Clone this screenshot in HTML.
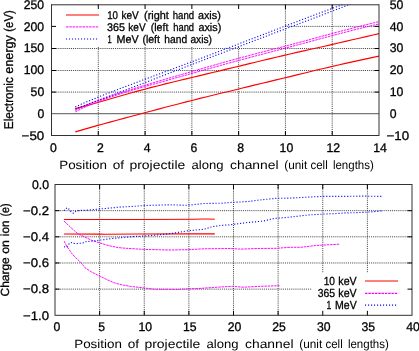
<!DOCTYPE html>
<html><head><meta charset="utf-8"><style>
html,body{margin:0;padding:0;background:#fff;}
svg{display:block;will-change:transform;}
text{font-family:"Liberation Sans", sans-serif;fill:#000;stroke:#000;stroke-width:0.3px;text-rendering:geometricPrecision;}
</style></head><body>
<svg width="419" height="351" viewBox="0 0 419 351">
<defs>
<clipPath id="c1"><rect x="51.5" y="4.5" width="327.5" height="131.0"/></clipPath>
<clipPath id="c2"><rect x="55.0" y="184.5" width="357.0" height="130.8"/></clipPath>
</defs>
<rect width="419" height="351" fill="#fff"/>
<line x1="98.29" y1="5" x2="98.29" y2="135.5" stroke="#000" stroke-width="1" stroke-dasharray="1.1,1.0" stroke-opacity="0.7"/>
<line x1="145.07" y1="5" x2="145.07" y2="135.5" stroke="#000" stroke-width="1" stroke-dasharray="1.1,1.0" stroke-opacity="0.7"/>
<line x1="191.86" y1="5" x2="191.86" y2="135.5" stroke="#000" stroke-width="1" stroke-dasharray="1.1,1.0" stroke-opacity="0.7"/>
<line x1="238.64" y1="5" x2="238.64" y2="135.5" stroke="#000" stroke-width="1" stroke-dasharray="1.1,1.0" stroke-opacity="0.7"/>
<line x1="285.43" y1="5" x2="285.43" y2="135.5" stroke="#000" stroke-width="1" stroke-dasharray="1.1,1.0" stroke-opacity="0.7"/>
<line x1="332.21" y1="5" x2="332.21" y2="135.5" stroke="#000" stroke-width="1" stroke-dasharray="1.1,1.0" stroke-opacity="0.7"/>
<line x1="52" y1="92.1" x2="379.0" y2="92.1" stroke="#000" stroke-width="1" stroke-dasharray="1.1,1.0" stroke-opacity="0.7"/>
<line x1="52" y1="70.5" x2="379.0" y2="70.5" stroke="#000" stroke-width="1" stroke-dasharray="1.1,1.0" stroke-opacity="0.7"/>
<line x1="52" y1="48.5" x2="379.0" y2="48.5" stroke="#000" stroke-width="1" stroke-dasharray="1.1,1.0" stroke-opacity="0.7"/>
<line x1="52" y1="26.4" x2="379.0" y2="26.4" stroke="#000" stroke-width="1" stroke-dasharray="1.1,1.0" stroke-opacity="0.7"/>
<line x1="51.5" y1="113.67" x2="379.0" y2="113.67" stroke="#777" stroke-width="1.1"/>
<rect x="52.0" y="5.0" width="232" height="41" fill="#fff"/>
<g clip-path="url(#c1)">
<polyline points="75.3,131.9 82.2,129.9 89.1,127.9 96.1,125.9 103.0,124.0 109.9,122.1 116.8,120.2 123.8,118.4 130.7,116.5 137.6,114.7 144.6,112.8 151.5,111.0 158.4,109.1 165.3,107.3 172.2,105.5 179.2,103.7 186.1,101.9 193.0,100.2 199.9,98.4 206.9,96.7 213.8,95.0 220.7,93.3 227.6,91.7 234.6,90.0 241.5,88.3 248.4,86.6 255.3,84.9 262.3,83.2 269.2,81.6 276.1,79.9 283.1,78.2 290.0,76.6 296.9,74.9 303.8,73.2 310.8,71.5 317.7,69.8 324.6,68.2 331.5,66.6 338.4,65.0 345.4,63.4 352.3,61.9 359.2,60.4 366.1,58.9 373.1,57.4 380.0,56.0" fill="none" stroke="#ff0000" stroke-width="1.15" stroke-linejoin="round"/>
<polyline points="75.3,108.6 82.2,106.9 89.1,105.0 96.1,103.0 103.0,101.0 109.9,99.0 116.8,97.0 123.8,95.0 130.7,93.0 137.6,91.1 144.6,89.3 151.5,87.4 158.4,85.7 165.3,83.9 172.2,82.2 179.2,80.5 186.1,78.9 193.0,77.2 199.9,75.6 206.9,73.9 213.8,72.3 220.7,70.6 227.6,68.9 234.6,67.3 241.5,65.6 248.4,63.9 255.3,62.2 262.3,60.5 269.2,58.9 276.1,57.2 283.1,55.6 290.0,54.0 296.9,52.4 303.8,50.9 310.8,49.3 317.7,47.7 324.6,46.2 331.5,44.6 338.4,43.0 345.4,41.4 352.3,39.8 359.2,38.2 366.1,36.6 373.1,35.0 380.0,33.3" fill="none" stroke="#ff0000" stroke-width="1.15" stroke-linejoin="round"/>
<polyline points="75.3,110.4 82.2,106.7 89.1,103.9 96.1,101.2 103.0,98.7 109.9,96.3 116.8,94.0 123.8,91.7 130.7,89.6 137.6,87.4 144.6,85.3 151.5,83.3 158.4,81.2 165.3,79.2 172.2,77.2 179.2,75.2 186.1,73.2 193.0,71.2 199.9,69.2 206.9,67.2 213.8,65.2 220.7,63.2 227.6,61.3 234.6,59.4 241.5,57.5 248.4,55.7 255.3,53.8 262.3,52.0 269.2,50.2 276.1,48.5 283.1,46.7 290.0,44.9 296.9,43.0 303.8,41.2 310.8,39.3 317.7,37.4 324.6,35.5 331.5,33.7 338.4,31.8 345.4,30.0 352.3,28.2 359.2,26.4 366.1,24.7 373.1,23.0 380.0,21.4" fill="none" stroke="#ff00ff" stroke-width="0.95" stroke-dasharray="2.5,0.8" stroke-linejoin="round"/>
<polyline points="75.3,111.9 82.2,108.3 89.1,105.3 96.1,102.5 103.0,99.8 109.9,97.3 116.8,95.0 123.8,92.7 130.7,90.6 137.6,88.6 144.6,86.6 151.5,84.7 158.4,82.8 165.3,80.9 172.2,78.9 179.2,77.0 186.1,75.1 193.0,73.1 199.9,71.2 206.9,69.2 213.8,67.3 220.7,65.4 227.6,63.5 234.6,61.6 241.5,59.7 248.4,57.9 255.3,56.0 262.3,54.2 269.2,52.4 276.1,50.6 283.1,48.8 290.0,46.9 296.9,45.1 303.8,43.3 310.8,41.4 317.7,39.5 324.6,37.7 331.5,35.8 338.4,34.0 345.4,32.2 352.3,30.4 359.2,28.6 366.1,27.0 373.1,25.3 380.0,23.8" fill="none" stroke="#ff00ff" stroke-width="0.95" stroke-dasharray="2.5,0.8" stroke-linejoin="round"/>
<polyline points="75.3,106.9 81.4,104.1 87.6,101.5 93.7,99.0 99.8,96.5 105.9,94.0 112.1,91.7 118.2,89.3 124.3,87.0 130.5,84.7 136.6,82.4 142.7,80.1 148.9,77.8 155.0,75.5 161.1,73.3 167.2,71.0 173.4,68.7 179.5,66.4 185.6,64.1 191.8,61.8 197.9,59.5 204.0,57.2 210.1,54.9 216.3,52.5 222.4,50.2 228.5,47.8 234.7,45.5 240.8,43.1 246.9,40.7 253.1,38.4 259.2,36.0 265.3,33.7 271.4,31.3 277.6,29.0 283.7,26.6 289.8,24.3 296.0,22.0 302.1,19.6 308.2,17.3 314.4,15.0 320.5,12.7 326.6,10.5 332.7,8.2 338.9,6.0 345.0,3.7" fill="none" stroke="#0000ff" stroke-width="1.1" stroke-dasharray="1.1,1.9" stroke-linejoin="round"/>
<polyline points="75.3,109.2 81.6,106.6 87.9,104.2 94.2,101.8 100.5,99.4 106.7,97.1 113.0,94.7 119.3,92.4 125.6,90.0 131.9,87.6 138.2,85.2 144.5,82.8 150.8,80.4 157.1,77.9 163.3,75.5 169.6,73.1 175.9,70.6 182.2,68.2 188.5,65.8 194.8,63.4 201.1,61.0 207.4,58.6 213.6,56.2 219.9,53.8 226.2,51.4 232.5,49.0 238.8,46.6 245.1,44.2 251.4,41.8 257.7,39.4 264.0,37.0 270.2,34.6 276.5,32.2 282.8,29.9 289.1,27.5 295.4,25.1 301.7,22.7 308.0,20.4 314.3,18.0 320.6,15.6 326.8,13.2 333.1,10.8 339.4,8.4 345.7,5.9 352.0,3.3" fill="none" stroke="#0000ff" stroke-width="1.1" stroke-dasharray="1.1,1.9" stroke-linejoin="round"/>
</g>
<path d="M51.5,4.8 H379.0 M51.5,135.5 H379.0 M51.5,4.3 V136.0 M379.0,4.3 V136.0" fill="none" stroke="#333" stroke-width="1"/>
<line x1="98.29" y1="135.5" x2="98.29" y2="131.0" stroke="#000"/>
<line x1="98.29" y1="4.5" x2="98.29" y2="9.0" stroke="#000"/>
<line x1="145.07" y1="135.5" x2="145.07" y2="131.0" stroke="#000"/>
<line x1="145.07" y1="4.5" x2="145.07" y2="9.0" stroke="#000"/>
<line x1="191.86" y1="135.5" x2="191.86" y2="131.0" stroke="#000"/>
<line x1="191.86" y1="4.5" x2="191.86" y2="9.0" stroke="#000"/>
<line x1="238.64" y1="135.5" x2="238.64" y2="131.0" stroke="#000"/>
<line x1="238.64" y1="4.5" x2="238.64" y2="9.0" stroke="#000"/>
<line x1="285.43" y1="135.5" x2="285.43" y2="131.0" stroke="#000"/>
<line x1="285.43" y1="4.5" x2="285.43" y2="9.0" stroke="#000"/>
<line x1="332.21" y1="135.5" x2="332.21" y2="131.0" stroke="#000"/>
<line x1="332.21" y1="4.5" x2="332.21" y2="9.0" stroke="#000"/>
<line x1="51.5" y1="92.1" x2="56.0" y2="92.1" stroke="#000"/>
<line x1="379.0" y1="92.1" x2="374.5" y2="92.1" stroke="#000"/>
<line x1="51.5" y1="70.5" x2="56.0" y2="70.5" stroke="#000"/>
<line x1="379.0" y1="70.5" x2="374.5" y2="70.5" stroke="#000"/>
<line x1="51.5" y1="48.5" x2="56.0" y2="48.5" stroke="#000"/>
<line x1="379.0" y1="48.5" x2="374.5" y2="48.5" stroke="#000"/>
<line x1="51.5" y1="26.4" x2="56.0" y2="26.4" stroke="#000"/>
<line x1="379.0" y1="26.4" x2="374.5" y2="26.4" stroke="#000"/>
<text x="44.20" y="139.70" font-size="12.52" text-anchor="end" textLength="22.58" lengthAdjust="spacingAndGlyphs">−50</text>
<text x="44.20" y="117.87" font-size="12.52" text-anchor="end" textLength="6.81" lengthAdjust="spacingAndGlyphs">0</text>
<text x="44.20" y="96.03" font-size="12.52" text-anchor="end" textLength="13.62" lengthAdjust="spacingAndGlyphs">50</text>
<text x="44.20" y="74.20" font-size="12.52" text-anchor="end" textLength="20.42" lengthAdjust="spacingAndGlyphs">100</text>
<text x="44.20" y="52.37" font-size="12.52" text-anchor="end" textLength="20.42" lengthAdjust="spacingAndGlyphs">150</text>
<text x="44.20" y="30.53" font-size="12.52" text-anchor="end" textLength="20.42" lengthAdjust="spacingAndGlyphs">200</text>
<text x="44.20" y="8.70" font-size="12.52" text-anchor="end" textLength="20.42" lengthAdjust="spacingAndGlyphs">250</text>
<text x="386.60" y="139.70" font-size="12.52" text-anchor="start" textLength="22.58" lengthAdjust="spacingAndGlyphs">−10</text>
<text x="389.80" y="117.87" font-size="12.52" text-anchor="start" textLength="6.81" lengthAdjust="spacingAndGlyphs">0</text>
<text x="389.80" y="96.03" font-size="12.52" text-anchor="start" textLength="13.62" lengthAdjust="spacingAndGlyphs">10</text>
<text x="389.80" y="74.20" font-size="12.52" text-anchor="start" textLength="13.62" lengthAdjust="spacingAndGlyphs">20</text>
<text x="389.80" y="52.37" font-size="12.52" text-anchor="start" textLength="13.62" lengthAdjust="spacingAndGlyphs">30</text>
<text x="389.80" y="30.53" font-size="12.52" text-anchor="start" textLength="13.62" lengthAdjust="spacingAndGlyphs">40</text>
<text x="389.80" y="8.70" font-size="12.52" text-anchor="start" textLength="13.62" lengthAdjust="spacingAndGlyphs">50</text>
<text x="53.50" y="151.50" font-size="12.52" text-anchor="middle" textLength="6.81" lengthAdjust="spacingAndGlyphs">0</text>
<text x="100.29" y="151.50" font-size="12.52" text-anchor="middle" textLength="6.81" lengthAdjust="spacingAndGlyphs">2</text>
<text x="147.07" y="151.50" font-size="12.52" text-anchor="middle" textLength="6.81" lengthAdjust="spacingAndGlyphs">4</text>
<text x="193.86" y="151.50" font-size="12.52" text-anchor="middle" textLength="6.81" lengthAdjust="spacingAndGlyphs">6</text>
<text x="240.64" y="151.50" font-size="12.52" text-anchor="middle" textLength="6.81" lengthAdjust="spacingAndGlyphs">8</text>
<text x="286.43" y="151.50" font-size="12.52" text-anchor="middle" textLength="13.62" lengthAdjust="spacingAndGlyphs">10</text>
<text x="333.21" y="151.50" font-size="12.52" text-anchor="middle" textLength="13.62" lengthAdjust="spacingAndGlyphs">12</text>
<text x="380.00" y="151.50" font-size="12.52" text-anchor="middle" textLength="13.62" lengthAdjust="spacingAndGlyphs">14</text>
<text x="59.20" y="169.30" font-size="12.00" textLength="47.70" lengthAdjust="spacingAndGlyphs" style="stroke-width:0px">Position</text><text x="112.70" y="169.30" font-size="12.00" textLength="11.37" lengthAdjust="spacingAndGlyphs" style="stroke-width:0px">of</text><text x="129.40" y="169.30" font-size="12.00" textLength="55.90" lengthAdjust="spacingAndGlyphs" style="stroke-width:0px">projectile</text><text x="191.50" y="169.30" font-size="12.00" textLength="32.00" lengthAdjust="spacingAndGlyphs" style="stroke-width:0px">along</text><text x="230.00" y="169.30" font-size="12.00" textLength="48.60" lengthAdjust="spacingAndGlyphs" style="stroke-width:0px">channel</text><text x="284.30" y="169.30" font-size="12.00" textLength="22.90" lengthAdjust="spacingAndGlyphs" style="stroke-width:0px">(unit</text><text x="310.50" y="169.30" font-size="12.00" textLength="17.19" lengthAdjust="spacingAndGlyphs" style="stroke-width:0px">cell</text><text x="332.90" y="169.30" font-size="12.00" textLength="41.00" lengthAdjust="spacingAndGlyphs" style="stroke-width:0px">lengths)</text>
<g transform="translate(12.80,129.40) rotate(-90)"><text x="0.20" y="0" font-size="12.75" textLength="52.10" lengthAdjust="spacingAndGlyphs">Electronic</text><text x="55.70" y="0" font-size="12.75" textLength="38.60" lengthAdjust="spacingAndGlyphs">energy</text><text x="97.70" y="0" font-size="12.75" textLength="21.60" lengthAdjust="spacingAndGlyphs">(eV)</text></g>
<line x1="66" y1="15.0" x2="99" y2="15.0" stroke="#ff0000" stroke-width="1.2"/>
<line x1="66" y1="26.9" x2="99" y2="26.9" stroke="#ff00ff" stroke-width="1.0" stroke-dasharray="2.5,0.8"/>
<line x1="66" y1="39.0" x2="99" y2="39.0" stroke="#0000ff" stroke-width="1.1" stroke-dasharray="1.1,1.9"/>
<text x="107.20" y="18.95" font-size="11.11" textLength="10.80" lengthAdjust="spacingAndGlyphs">10</text><text x="121.50" y="18.95" font-size="11.11" textLength="17.30" lengthAdjust="spacingAndGlyphs">keV</text><text x="144.10" y="18.95" font-size="11.11" textLength="24.80" lengthAdjust="spacingAndGlyphs">(right</text><text x="172.70" y="18.95" font-size="11.11" textLength="21.40" lengthAdjust="spacingAndGlyphs">hand</text><text x="197.90" y="18.95" font-size="11.11" textLength="22.90" lengthAdjust="spacingAndGlyphs">axis)</text>
<text x="107.00" y="31.00" font-size="11.11" textLength="17.91" lengthAdjust="spacingAndGlyphs">365</text><text x="128.30" y="31.00" font-size="11.11" textLength="17.30" lengthAdjust="spacingAndGlyphs">keV</text><text x="150.70" y="31.00" font-size="11.11" textLength="17.70" lengthAdjust="spacingAndGlyphs">(left</text><text x="173.20" y="31.00" font-size="11.11" textLength="20.90" lengthAdjust="spacingAndGlyphs">hand</text><text x="198.40" y="31.00" font-size="11.11" textLength="22.90" lengthAdjust="spacingAndGlyphs">axis)</text>
<text x="107.60" y="43.05" font-size="11.11" textLength="4.20" lengthAdjust="spacingAndGlyphs">1</text><text x="116.50" y="43.05" font-size="11.11" textLength="22.10" lengthAdjust="spacingAndGlyphs">MeV</text><text x="142.40" y="43.05" font-size="11.11" textLength="17.60" lengthAdjust="spacingAndGlyphs">(left</text><text x="164.30" y="43.05" font-size="11.11" textLength="22.80" lengthAdjust="spacingAndGlyphs">hand</text><text x="190.40" y="43.05" font-size="11.11" textLength="21.50" lengthAdjust="spacingAndGlyphs">axis)</text>
<line x1="99.62" y1="185" x2="99.62" y2="315.3" stroke="#000" stroke-width="1" stroke-dasharray="1.1,1.0" stroke-opacity="0.7"/>
<line x1="144.25" y1="185" x2="144.25" y2="315.3" stroke="#000" stroke-width="1" stroke-dasharray="1.1,1.0" stroke-opacity="0.7"/>
<line x1="188.88" y1="185" x2="188.88" y2="315.3" stroke="#000" stroke-width="1" stroke-dasharray="1.1,1.0" stroke-opacity="0.7"/>
<line x1="233.5" y1="185" x2="233.5" y2="315.3" stroke="#000" stroke-width="1" stroke-dasharray="1.1,1.0" stroke-opacity="0.7"/>
<line x1="278.12" y1="185" x2="278.12" y2="315.3" stroke="#000" stroke-width="1" stroke-dasharray="1.1,1.0" stroke-opacity="0.7"/>
<line x1="322.75" y1="185" x2="322.75" y2="315.3" stroke="#000" stroke-width="1" stroke-dasharray="1.1,1.0" stroke-opacity="0.7"/>
<line x1="367.38" y1="185" x2="367.38" y2="315.3" stroke="#000" stroke-width="1" stroke-dasharray="1.1,1.0" stroke-opacity="0.7"/>
<line x1="56" y1="210.66" x2="412.0" y2="210.66" stroke="#000" stroke-width="1" stroke-dasharray="1.1,1.0" stroke-opacity="0.7"/>
<line x1="56" y1="236.82" x2="412.0" y2="236.82" stroke="#000" stroke-width="1" stroke-dasharray="1.1,1.0" stroke-opacity="0.7"/>
<line x1="56" y1="262.98" x2="412.0" y2="262.98" stroke="#000" stroke-width="1" stroke-dasharray="1.1,1.0" stroke-opacity="0.7"/>
<line x1="56" y1="289.14" x2="412.0" y2="289.14" stroke="#000" stroke-width="1" stroke-dasharray="1.1,1.0" stroke-opacity="0.7"/>
<rect x="312" y="273" width="99.5" height="41.80000000000001" fill="#fff"/>
<g clip-path="url(#c2)">
<polyline points="63.9,219.5 140.0,219.5 190.0,219.3 205.0,219.0 214.8,219.2" fill="none" stroke="#ff0000" stroke-width="1.0" stroke-linejoin="round"/>
<polyline points="63.9,234.0 100.0,234.1 105.0,234.3 140.0,234.0 190.0,233.9 214.8,233.9" fill="none" stroke="#ff0000" stroke-width="1.15" stroke-linejoin="round"/>
<polyline points="63.9,221.0 70.8,227.5 77.7,233.6 85.0,237.1 90.7,239.9 99.3,242.8 108.9,245.7 118.4,247.6 125.0,248.2 143.5,249.4 170.0,250.0 187.1,249.7 204.2,248.8 230.0,248.5 241.1,249.1 257.8,248.5 276.3,248.3 290.0,247.3 301.0,247.3 315.5,245.5 326.5,244.9 339.2,244.2" fill="none" stroke="#ff00ff" stroke-width="0.95" stroke-dasharray="2.5,0.8" stroke-linejoin="round"/>
<polyline points="64.2,241.2 66.5,246.0 69.1,249.6 72.2,254.0 75.5,257.5 77.1,259.0 81.0,262.8 84.8,267.5 91.2,271.8 98.9,275.6 107.9,280.1 115.6,283.3 122.0,284.9 131.5,286.5 142.9,287.8 154.4,289.2 177.3,289.4 200.0,288.4 217.2,287.2 232.2,286.3 243.0,287.2 260.1,286.3 279.5,285.7" fill="none" stroke="#ff00ff" stroke-width="0.95" stroke-dasharray="2.5,0.8" stroke-linejoin="round"/>
<polyline points="64.0,210.7 67.0,207.7 69.1,209.2 70.8,211.5 73.4,213.2 76.0,211.1 80.2,210.4 88.0,210.1 120.0,207.1 135.7,206.2 144.3,205.5 159.2,205.1 170.0,204.8 187.1,205.3 204.2,203.5 221.3,203.2 230.0,202.5 248.5,201.5 257.8,200.2 276.3,198.3 290.0,198.1 308.2,197.1 322.8,196.4 345.0,196.4 361.1,196.1 382.0,196.4" fill="none" stroke="#0000ff" stroke-width="1.1" stroke-dasharray="1.1,1.9" stroke-linejoin="round"/>
<polyline points="64.0,246.8 66.5,247.2 68.7,244.2 70.8,242.5 73.8,243.4 76.8,243.6 80.2,243.2 82.8,243.0 85.8,241.7 92.2,241.2 99.3,240.2 104.1,239.6 111.7,238.5 118.4,238.0 123.2,237.4 135.7,236.4 144.3,236.0 159.2,234.8 170.0,233.7 187.1,230.9 204.2,229.2 212.7,226.6 221.3,225.4 230.0,224.8 248.5,222.4 263.3,221.1 272.6,218.7 290.0,217.1 308.2,215.0 322.8,214.1 337.4,213.5 345.0,212.9 355.7,212.7 366.5,212.2 377.2,211.4 382.0,210.8" fill="none" stroke="#0000ff" stroke-width="1.1" stroke-dasharray="1.1,1.9" stroke-linejoin="round"/>
</g>
<rect x="55.0" y="184.5" width="357.0" height="130.8" fill="none" stroke="#333" stroke-width="1"/>
<line x1="99.62" y1="315.3" x2="99.62" y2="310.8" stroke="#000"/>
<line x1="99.62" y1="184.5" x2="99.62" y2="189.0" stroke="#000"/>
<line x1="144.25" y1="315.3" x2="144.25" y2="310.8" stroke="#000"/>
<line x1="144.25" y1="184.5" x2="144.25" y2="189.0" stroke="#000"/>
<line x1="188.88" y1="315.3" x2="188.88" y2="310.8" stroke="#000"/>
<line x1="188.88" y1="184.5" x2="188.88" y2="189.0" stroke="#000"/>
<line x1="233.5" y1="315.3" x2="233.5" y2="310.8" stroke="#000"/>
<line x1="233.5" y1="184.5" x2="233.5" y2="189.0" stroke="#000"/>
<line x1="278.12" y1="315.3" x2="278.12" y2="310.8" stroke="#000"/>
<line x1="278.12" y1="184.5" x2="278.12" y2="189.0" stroke="#000"/>
<line x1="322.75" y1="315.3" x2="322.75" y2="310.8" stroke="#000"/>
<line x1="322.75" y1="184.5" x2="322.75" y2="189.0" stroke="#000"/>
<line x1="367.38" y1="315.3" x2="367.38" y2="310.8" stroke="#000"/>
<line x1="367.38" y1="184.5" x2="367.38" y2="189.0" stroke="#000"/>
<line x1="55.0" y1="210.66" x2="59.5" y2="210.66" stroke="#000"/>
<line x1="412.0" y1="210.66" x2="407.5" y2="210.66" stroke="#000"/>
<line x1="55.0" y1="236.82" x2="59.5" y2="236.82" stroke="#000"/>
<line x1="412.0" y1="236.82" x2="407.5" y2="236.82" stroke="#000"/>
<line x1="55.0" y1="262.98" x2="59.5" y2="262.98" stroke="#000"/>
<line x1="412.0" y1="262.98" x2="407.5" y2="262.98" stroke="#000"/>
<line x1="55.0" y1="289.14" x2="59.5" y2="289.14" stroke="#000"/>
<line x1="412.0" y1="289.14" x2="407.5" y2="289.14" stroke="#000"/>
<text x="49.00" y="188.70" font-size="12.52" text-anchor="end" textLength="17.02" lengthAdjust="spacingAndGlyphs">0.0</text>
<text x="49.00" y="214.86" font-size="12.52" text-anchor="end" textLength="25.98" lengthAdjust="spacingAndGlyphs">−0.2</text>
<text x="49.00" y="241.02" font-size="12.52" text-anchor="end" textLength="25.98" lengthAdjust="spacingAndGlyphs">−0.4</text>
<text x="49.00" y="267.18" font-size="12.52" text-anchor="end" textLength="25.98" lengthAdjust="spacingAndGlyphs">−0.6</text>
<text x="49.00" y="293.34" font-size="12.52" text-anchor="end" textLength="25.98" lengthAdjust="spacingAndGlyphs">−0.8</text>
<text x="49.00" y="319.50" font-size="12.52" text-anchor="end" textLength="25.98" lengthAdjust="spacingAndGlyphs">−1.0</text>
<text x="57.00" y="331.40" font-size="12.52" text-anchor="middle" textLength="6.81" lengthAdjust="spacingAndGlyphs">0</text>
<text x="101.62" y="331.40" font-size="12.52" text-anchor="middle" textLength="6.81" lengthAdjust="spacingAndGlyphs">5</text>
<text x="145.25" y="331.40" font-size="12.52" text-anchor="middle" textLength="13.62" lengthAdjust="spacingAndGlyphs">10</text>
<text x="189.88" y="331.40" font-size="12.52" text-anchor="middle" textLength="13.62" lengthAdjust="spacingAndGlyphs">15</text>
<text x="234.50" y="331.40" font-size="12.52" text-anchor="middle" textLength="13.62" lengthAdjust="spacingAndGlyphs">20</text>
<text x="279.12" y="331.40" font-size="12.52" text-anchor="middle" textLength="13.62" lengthAdjust="spacingAndGlyphs">25</text>
<text x="323.75" y="331.40" font-size="12.52" text-anchor="middle" textLength="13.62" lengthAdjust="spacingAndGlyphs">30</text>
<text x="368.38" y="331.40" font-size="12.52" text-anchor="middle" textLength="13.62" lengthAdjust="spacingAndGlyphs">35</text>
<text x="413.00" y="331.40" font-size="12.52" text-anchor="middle" textLength="13.62" lengthAdjust="spacingAndGlyphs">40</text>
<text x="74.20" y="347.60" font-size="12.00" textLength="47.70" lengthAdjust="spacingAndGlyphs" style="stroke-width:0px">Position</text><text x="127.70" y="347.60" font-size="12.00" textLength="11.37" lengthAdjust="spacingAndGlyphs" style="stroke-width:0px">of</text><text x="144.40" y="347.60" font-size="12.00" textLength="55.90" lengthAdjust="spacingAndGlyphs" style="stroke-width:0px">projectile</text><text x="206.50" y="347.60" font-size="12.00" textLength="32.00" lengthAdjust="spacingAndGlyphs" style="stroke-width:0px">along</text><text x="245.00" y="347.60" font-size="12.00" textLength="48.60" lengthAdjust="spacingAndGlyphs" style="stroke-width:0px">channel</text><text x="299.30" y="347.60" font-size="12.00" textLength="22.90" lengthAdjust="spacingAndGlyphs" style="stroke-width:0px">(unit</text><text x="325.50" y="347.60" font-size="12.00" textLength="17.19" lengthAdjust="spacingAndGlyphs" style="stroke-width:0px">cell</text><text x="347.90" y="347.60" font-size="12.00" textLength="41.00" lengthAdjust="spacingAndGlyphs" style="stroke-width:0px">lengths)</text>
<g transform="translate(9.20,296.80) rotate(-90)"><text x="0.30" y="0" font-size="11.80" textLength="39.30" lengthAdjust="spacingAndGlyphs">Charge</text><text x="43.00" y="0" font-size="11.80" textLength="13.70" lengthAdjust="spacingAndGlyphs">on</text><text x="60.60" y="0" font-size="11.80" textLength="15.71" lengthAdjust="spacingAndGlyphs">ion</text><text x="80.30" y="0" font-size="11.80" textLength="13.10" lengthAdjust="spacingAndGlyphs">(e)</text></g>
<line x1="365" y1="281.0" x2="398" y2="281.0" stroke="#ff0000" stroke-width="1.2"/>
<text x="323.70" y="284.70" font-size="11.70" textLength="11.30" lengthAdjust="spacingAndGlyphs">10</text><text x="338.30" y="284.70" font-size="11.70" textLength="18.40" lengthAdjust="spacingAndGlyphs">keV</text>
<line x1="365" y1="293.4" x2="398" y2="293.4" stroke="#ff00ff" stroke-width="1.2" stroke-dasharray="2.5,0.8"/>
<text x="317.70" y="297.10" font-size="11.70" textLength="17.30" lengthAdjust="spacingAndGlyphs">365</text><text x="338.30" y="297.10" font-size="11.70" textLength="18.40" lengthAdjust="spacingAndGlyphs">keV</text>
<line x1="365" y1="305.2" x2="398" y2="305.2" stroke="#0000ff" stroke-width="1.2" stroke-dasharray="1.1,1.9"/>
<text x="326.40" y="308.90" font-size="11.70" textLength="4.80" lengthAdjust="spacingAndGlyphs">1</text><text x="335.00" y="308.90" font-size="11.70" textLength="21.70" lengthAdjust="spacingAndGlyphs">MeV</text>
</svg>
</body></html>
